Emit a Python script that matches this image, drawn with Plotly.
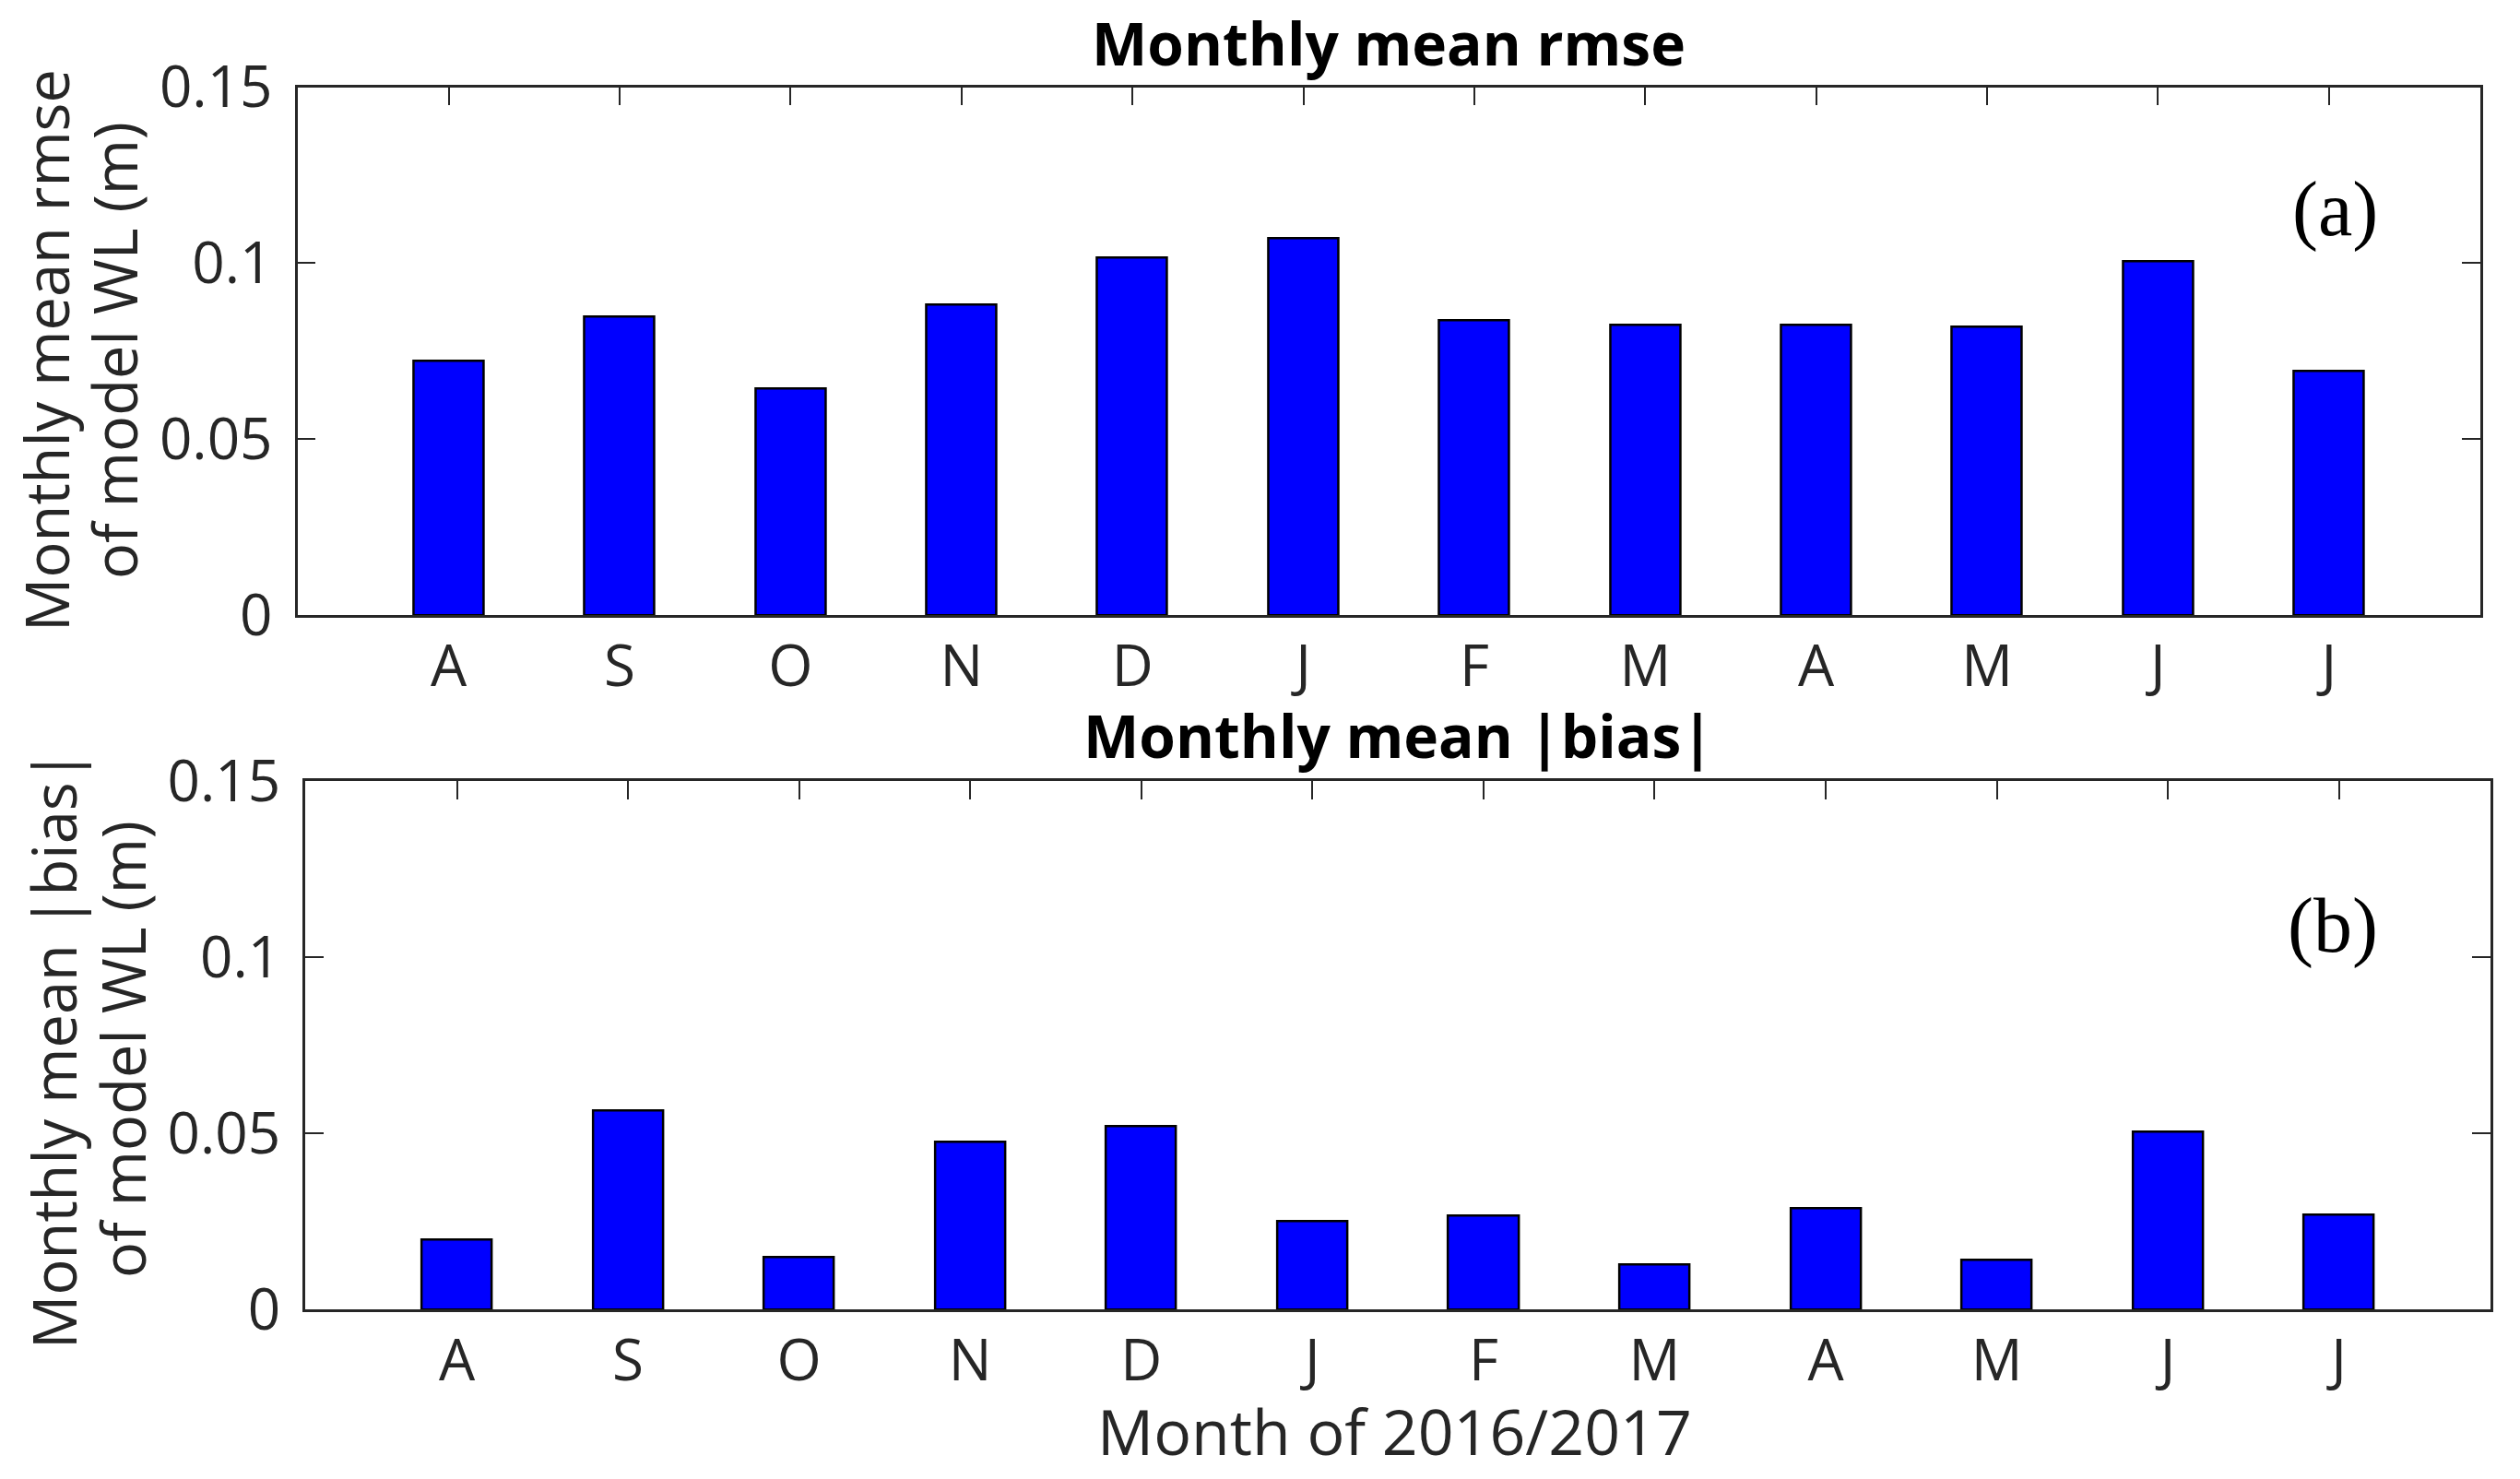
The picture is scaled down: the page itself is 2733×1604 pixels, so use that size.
import plotly.graph_objects as go

# ---------------- data ----------------
months = ["A", "S", "O", "N", "D", "J", "F", "M", "A", "M", "J", "J"]
rmse = [0.0723, 0.0847, 0.0643, 0.0882, 0.1014, 0.1071, 0.0838, 0.0824, 0.0824, 0.0818, 0.1006, 0.0692]
bias = [0.0199, 0.0564, 0.0147, 0.0476, 0.0519, 0.0250, 0.0265, 0.0127, 0.0286, 0.0140, 0.0504, 0.0270]
ytick_vals = [0, 0.05, 0.1, 0.15]
ytick_text = ["0", "0.05", "0.1", "0.15"]
positions = list(range(1, len(months) + 1))

W, H = 2733, 1604
SANS = "Open Sans"
AXC = "#262626"


def px_x(v):
    return v / W


def px_y(v):
    return 1 - v / H


fig = go.Figure()
bar_style = dict(width=0.41, marker=dict(color="#0000FF", line=dict(color="black", width=2.5)),
                 showlegend=False, hoverinfo="skip")
fig.add_bar(x=positions, y=rmse, xaxis="x", yaxis="y", **bar_style)
fig.add_bar(x=positions, y=bias, xaxis="x2", yaxis="y2", **bar_style)

xr = [1 - 0.8846, len(months) + 0.8846]
common_x = dict(range=xr, tickmode="array", tickvals=positions, ticktext=months,
                showline=True, mirror="ticks", linecolor=AXC, linewidth=2.5,
                ticks="inside", ticklen=20, tickwidth=2, tickcolor=AXC,
                tickfont=dict(family=SANS, size=62, color=AXC), showgrid=False,
                zeroline=False, layer="below traces", ticklabelstandoff=0,
                fixedrange=True, automargin=False)
common_y = dict(range=[0, 0.15], tickmode="array", tickvals=ytick_vals, ticktext=ytick_text,
                showline=True, mirror="ticks", linecolor=AXC, linewidth=2.5,
                ticks="inside", ticklen=20, tickwidth=2, tickcolor=AXC,
                tickfont=dict(family=SANS, size=62, color=AXC), showgrid=False,
                zeroline=False, layer="below traces", ticklabelstandoff=12,
                fixedrange=True, automargin=False)

fig.update_layout(
    template="none",
    width=W, height=H, margin=dict(l=0, r=0, t=0, b=0, pad=0, autoexpand=False),
    paper_bgcolor="white", plot_bgcolor="white", bargap=0,
    xaxis=dict(domain=[px_x(322.7), px_x(2689.8)], anchor="y", **common_x),
    yaxis=dict(domain=[px_y(667), px_y(94.5)], anchor="x", **common_y),
    xaxis2=dict(domain=[px_x(331.4), px_x(2700.8)], anchor="y2", **common_x),
    yaxis2=dict(domain=[px_y(1420), px_y(847.4)], anchor="x2", **common_y),
)

ann = []
# titles
ann.append(dict(text="<b>Monthly mean rmse</b>", x=px_x(1506), y=px_y(46), xref="paper", yref="paper",
                xanchor="center", yanchor="middle", showarrow=False,
                font=dict(family=SANS, size=64, color="black")))
ann.append(dict(text="<b>Monthly mean |bias|</b>", x=px_x(1516), y=px_y(797), xref="paper", yref="paper",
                xanchor="center", yanchor="middle", showarrow=False,
                font=dict(family=SANS, size=64, color="black")))
# y-axis labels (two lines each)
for txt, xc, yc in [("Monthly mean rmse", 50, 380), ("of model WL (m)", 124, 380),
                    ("Monthly mean |bias|", 58, 1138), ("of model WL (m)", 133, 1138)]:
    ann.append(dict(text=txt, x=px_x(xc), y=px_y(yc), xref="paper", yref="paper",
                    xanchor="center", yanchor="middle", textangle=-90, showarrow=False,
                    font=dict(family=SANS, size=65, color=AXC)))
# x-axis label
ann.append(dict(text="Month of 2016/2017", x=px_x(1513), y=px_y(1551), xref="paper", yref="paper",
                xanchor="center", yanchor="middle", showarrow=False,
                font=dict(family=SANS, size=68, color=AXC)))
# panel letters
ann.append(dict(text="(a)", x=0.9334, y=0.1153, xref="x domain", yref="y", xanchor="center",
                yanchor="middle", showarrow=False,
                font=dict(family="Liberation Serif", size=84, color="black")))
ann.append(dict(text="(b)", x=0.928, y=0.1089, xref="x2 domain", yref="y2", xanchor="center",
                yanchor="middle", showarrow=False,
                font=dict(family="Liberation Serif", size=84, color="black")))
fig.update_layout(annotations=ann)

fig.write_html("out.html", config={"displayModeBar": False},
               post_script="document.body.style.margin='0';document.body.style.overflow='hidden';")
